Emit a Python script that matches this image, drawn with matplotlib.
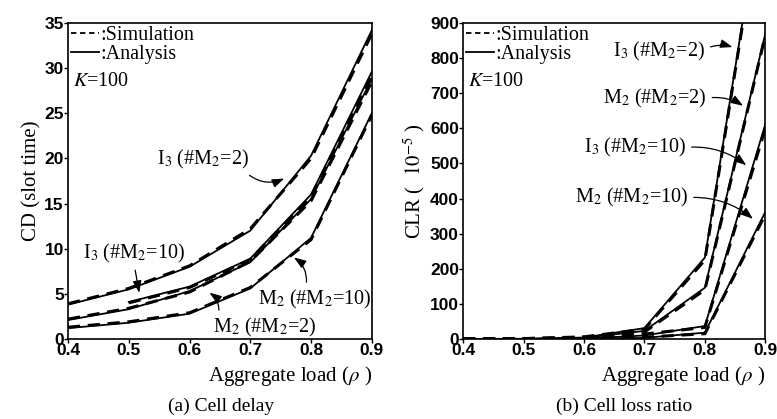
import matplotlib
matplotlib.use('Agg')
import matplotlib.pyplot as plt
import numpy as np

plt.rcParams.update({
    'font.family': 'Liberation Serif',
    'mathtext.fontset': 'stix',
    'font.size': 14,
})

# aggregate load values
load = [0.4, 0.5, 0.6, 0.7, 0.8, 0.9]

# (a) cell delay, analysis
cd_i3_2 = [3.8, 5.5, 8.0, 12.0, 20.3, 34.2]
cd_i3_10 = [np.nan, 4.1, 5.8, 8.9, 16.0, 29.6]
cd_m2_2 = [2.1, 3.3, 5.3, 8.5, 15.5, 28.8]
cd_m2_10 = [1.2, 1.8, 2.8, 5.6, 11.2, 25.0]
# (a) cell delay, simulation
cd_i3_2_sim = [3.9, 5.6, 8.1, 12.2, 20.0, 33.8]
cd_i3_10_sim = [np.nan, 4.0, 5.7, 8.8, 15.8, 29.2]
cd_m2_2_sim = [2.2, 3.4, 5.2, 8.6, 15.3, 28.5]
cd_m2_10_sim = [1.3, 1.9, 2.9, 5.7, 11.0, 24.8]

# (b) cell loss ratio (x 1e-5), analysis
clr_i3_2 = [0, 0.5, 4, 31, 232, 1310]
clr_m2_2 = [0, 0.3, 3, 23, 146, 870]
clr_i3_10 = [0, 0, 1, 10, 37, 612]
clr_m2_10 = [0, 0, 0.5, 3, 18, 362]
# (b) simulation
clr_i3_2_sim = [0, 1, 6, 28, 225, 1300]
clr_m2_2_sim = [0, 1, 5, 20, 140, 865]
clr_i3_10_sim = [0, 0, 2, 14, 33, 600]
clr_m2_10_sim = [0, 0, 1, 5, 15, 355]

tick_font = {'family': 'Liberation Sans', 'weight': 'bold', 'size': 12.5}
fs = 14.5
dash = (0, (4, 2.5))

fig = plt.figure(figsize=(7.77, 4.19), dpi=100)
ax1 = fig.add_axes([0.0875, 0.191, 0.391, 0.754])
ax2 = fig.add_axes([0.596, 0.191, 0.389, 0.754])


def draw(ax, ana, sim):
    for a, s in zip(ana, sim):
        ax.plot(load, a, color='black', lw=1.3)
        ax.plot(load, s, color='black', lw=2.2, ls=dash)


draw(ax1, [cd_i3_2, cd_i3_10, cd_m2_2, cd_m2_10],
     [cd_i3_2_sim, cd_i3_10_sim, cd_m2_2_sim, cd_m2_10_sim])
draw(ax2, [clr_i3_2, clr_m2_2, clr_i3_10, clr_m2_10],
     [clr_i3_2_sim, clr_m2_2_sim, clr_i3_10_sim, clr_m2_10_sim])

ax1.set_xlim(0.4, 0.9)
ax1.set_ylim(0, 35)
ax1.set_yticks(np.arange(0, 36, 5))
ax2.set_xlim(0.4, 0.9)
ax2.set_ylim(0, 900)
ax2.set_yticks(np.arange(0, 901, 100))

for ax in (ax1, ax2):
    ax.set_xticks([0.4, 0.5, 0.6, 0.7, 0.8, 0.9])
    ax.set_xticklabels(['0.4', '0.5', '0.6', '0.7', '0.8', '0.9'])
    for lab in ax.get_xticklabels() + ax.get_yticklabels():
        lab.set_fontproperties(tick_font)
    ax.tick_params(direction='out', length=3, width=1, pad=0)
    for sp in ax.spines.values():
        sp.set_linewidth(1.2)
    ax.set_xlabel(r'Aggregate load ($\rho$ )', fontsize=15, loc='right', labelpad=4)
    h1, = ax.plot([], [], color='black', lw=1.3, ls=(0, (3, 2)))
    h2, = ax.plot([], [], color='black', lw=1.3)
    ax.legend([h1, h2], [':Simulation', ':Analysis'], loc='upper left',
              frameon=False, handlelength=1.4, handletextpad=0.05,
              borderaxespad=0.05, borderpad=0.1, labelspacing=0.0, fontsize=fs)
    ax.text(0.015, 0.845, r'$K$=100', transform=ax.transAxes, fontsize=fs,
            va='top')

ax1.set_ylabel('CD (slot time)', fontsize=15, labelpad=2)
ax2.set_ylabel(r'CLR (  $10^{-5}$ )', fontsize=15, labelpad=2)

fig.text(0.285, 0.03, '(a) Cell delay', ha='center', va='center', fontsize=14)
fig.text(0.803, 0.03, '(b) Cell loss ratio', ha='center', va='center', fontsize=14)

arrow = dict(arrowstyle='-|>,head_length=0.5,head_width=0.18', color='black', lw=0.9)

ax1.annotate(r'I$_3$ (#M$_2$=2)', xy=(0.76, 17.9), xytext=(0.546, 19.9),
             va='center', fontsize=fs,
             arrowprops=dict(arrow, relpos=(0.95, 0.0), connectionstyle='arc3,rad=0.35'))
ax1.annotate(r'I$_3$ (#M$_2$=10)', xy=(0.518, 4.8), xytext=(0.425, 9.5),
             va='center', fontsize=fs,
             arrowprops=dict(arrow, relpos=(0.5, 0.0), connectionstyle='arc3,rad=0.0'))
ax1.annotate(r'M$_2$ (#M$_2$=10)', xy=(0.768, 9.2), xytext=(0.713, 4.4),
             va='center', fontsize=fs,
             arrowprops=dict(arrow, relpos=(0.42, 1.0), connectionstyle='arc3,rad=0.35'))
ax1.annotate(r'M$_2$ (#M$_2$=2)', xy=(0.629, 5.3), xytext=(0.639, 1.3),
             va='center', fontsize=fs,
             arrowprops=dict(arrow, relpos=(0.05, 1.0), connectionstyle='arc3,rad=0.35'))

ax2.annotate(r'I$_3$ (#M$_2$=2)', xy=(0.85, 829), xytext=(0.648, 820),
             va='center', fontsize=fs,
             arrowprops=dict(arrow, relpos=(1.0, 0.6), connectionstyle='arc3,rad=-0.2'))
ax2.annotate(r'M$_2$ (#M$_2$=2)', xy=(0.867, 660), xytext=(0.632, 686),
             va='center', fontsize=fs,
             arrowprops=dict(arrow, relpos=(1.0, 0.5), connectionstyle='arc3,rad=-0.2'))
ax2.annotate(r'I$_3$ (#M$_2$=10)', xy=(0.872, 490), xytext=(0.60, 546),
             va='center', fontsize=fs,
             arrowprops=dict(arrow, relpos=(1.0, 0.5), connectionstyle='arc3,rad=-0.2'))
ax2.annotate(r'M$_2$ (#M$_2$=10)', xy=(0.883, 337), xytext=(0.585, 403),
             va='center', fontsize=fs,
             arrowprops=dict(arrow, relpos=(1.0, 0.5), connectionstyle='arc3,rad=-0.2'))

fig.savefig('out.png', dpi=100)
